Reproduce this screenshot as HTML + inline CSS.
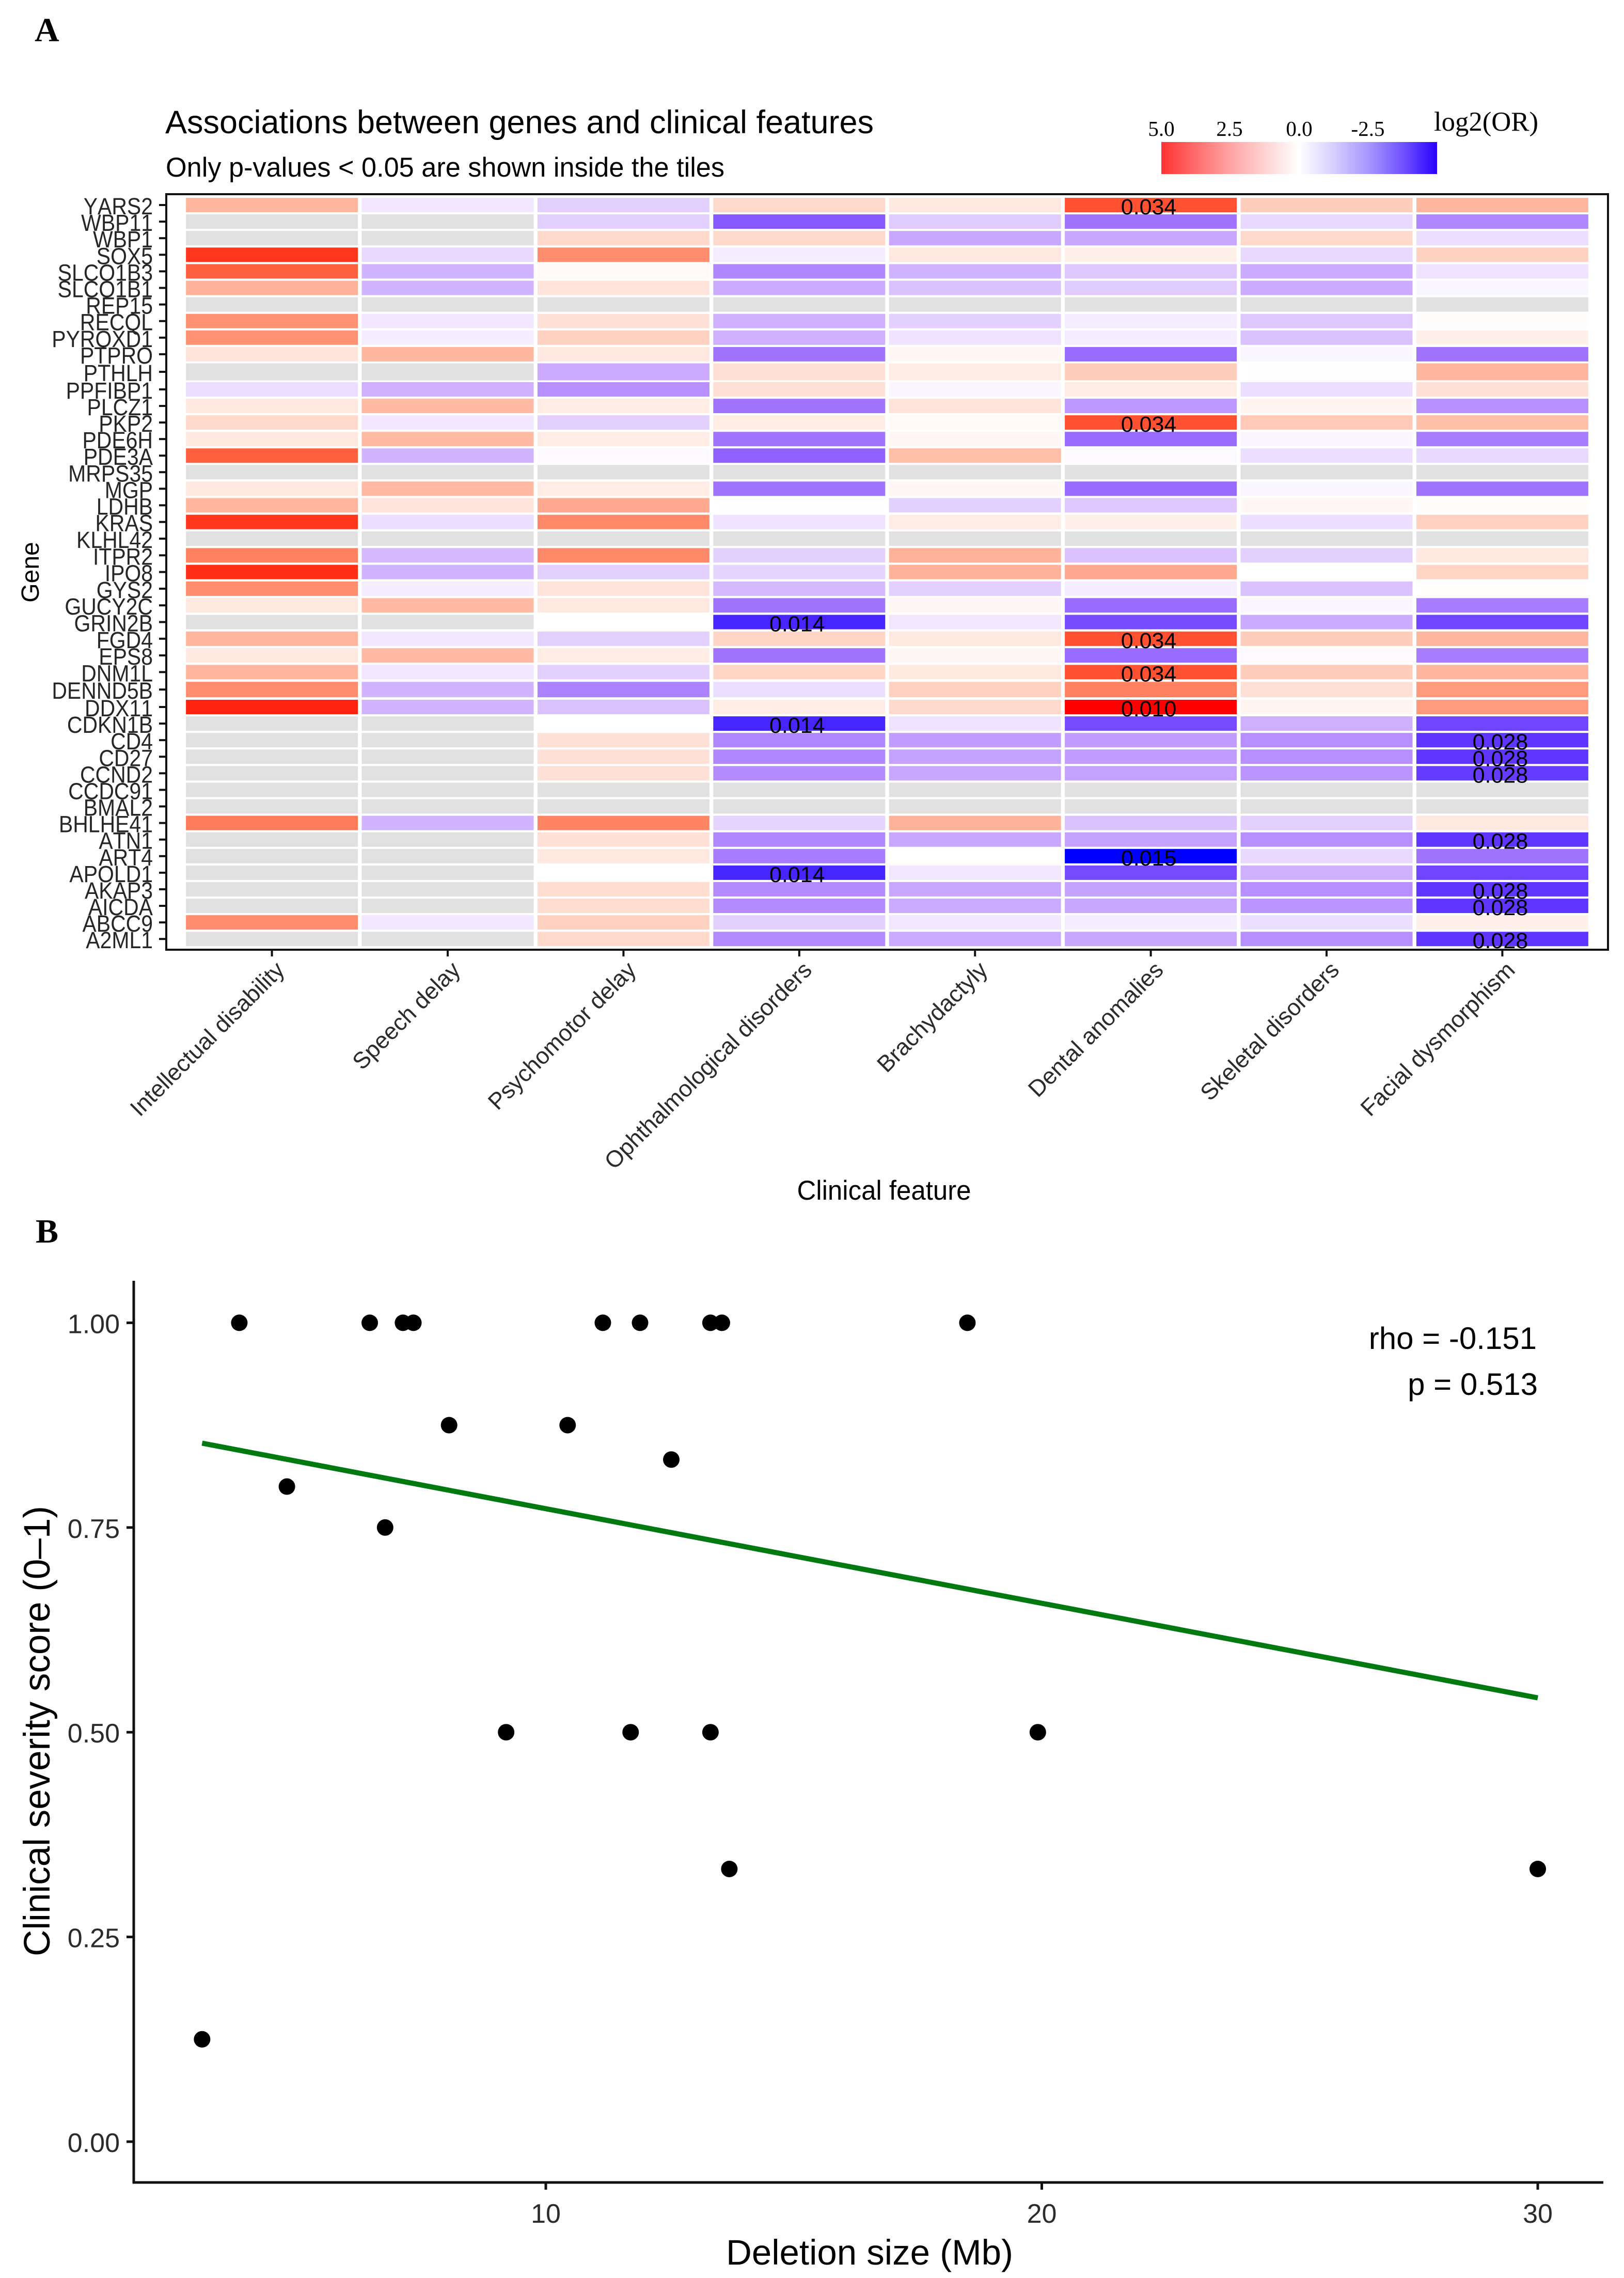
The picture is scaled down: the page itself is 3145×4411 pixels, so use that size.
<!DOCTYPE html>
<html lang="en">
<head>
<meta charset="utf-8">
<title>Gene associations and clinical severity</title>
<style>
html,body{margin:0;padding:0;background:#fff;}
svg{display:block;}
text{font-family:"Liberation Sans",Arial,sans-serif;}
.serif{font-family:"Liberation Serif","Times New Roman",serif;}
</style>
</head>
<body>
<svg id="figure" xmlns="http://www.w3.org/2000/svg" width="3145" height="4411" viewBox="0 0 3145 4411">
  <defs>
    <linearGradient id="legendGradient" x1="0" x2="1" y1="0" y2="0">
      <stop offset="0" stop-color="#ff3232"/>
      <stop offset="0.12" stop-color="#ff6a6a"/>
      <stop offset="0.25" stop-color="#ffa4a4"/>
      <stop offset="0.38" stop-color="#ffd4d4"/>
      <stop offset="0.5" stop-color="#ffffff"/>
      <stop offset="0.62" stop-color="#d8d0ff"/>
      <stop offset="0.75" stop-color="#a896ff"/>
      <stop offset="0.88" stop-color="#6e50ff"/>
      <stop offset="1" stop-color="#2a00ff"/>
    </linearGradient>
  </defs>
  <rect x="0" y="0" width="3145" height="4411" fill="#ffffff"/>

  <text class="serif" x="67" y="80" font-size="66" font-weight="700">A</text>
  <text class="serif" x="69" y="2406" font-size="66" font-weight="700">B</text>

  <text x="320" y="258" font-size="63" textLength="1372" lengthAdjust="spacingAndGlyphs">Associations between genes and clinical features</text>
  <text x="321" y="342" font-size="53" textLength="1082" lengthAdjust="spacingAndGlyphs">Only p-values &lt; 0.05 are shown inside the tiles</text>

  <g id="legend">
    <rect x="2249" y="275" width="534" height="62" fill="url(#legendGradient)"/>
    <text class="serif" x="2249" y="263" font-size="41" text-anchor="middle">5.0</text>
    <text class="serif" x="2381" y="263" font-size="41" text-anchor="middle">2.5</text>
    <text class="serif" x="2516" y="263" font-size="41" text-anchor="middle">0.0</text>
    <text class="serif" x="2649" y="263" font-size="41" text-anchor="middle">-2.5</text>
    <text class="serif" x="2777" y="253" font-size="53" textLength="202" lengthAdjust="spacingAndGlyphs">log2(OR)</text>
  </g>

  <g id="heatmap"></g>
  <text transform="translate(75,1108) rotate(-90)" font-size="48" text-anchor="middle">Gene</text>
  <text x="1712" y="2323" font-size="53" text-anchor="middle" textLength="337" lengthAdjust="spacingAndGlyphs">Clinical feature</text>

  <g id="scatter"></g>
  <text x="2976" y="2612" font-size="60" text-anchor="end">rho = -0.151</text>
  <text x="2978" y="2701" font-size="60" text-anchor="end">p = 0.513</text>
  <text x="1684" y="4385" font-size="69" text-anchor="middle">Deletion size (Mb)</text>
  <text transform="translate(96,3352) rotate(-90)" font-size="71" text-anchor="middle">Clinical severity score (0–1)</text>
</svg>

<script>
/* Heatmap data: log2(OR) per gene (rows) and clinical feature (columns); null = not available */
var genes = ["YARS2","WBP11","WBP1","SOX5","SLCO1B3","SLCO1B1","REP15","RECQL","PYROXD1","PTPRO","PTHLH","PPFIBP1","PLCZ1","PKP2","PDE6H","PDE3A","MRPS35","MGP","LDHB","KRAS","KLHL42","ITPR2","IPO8","GYS2","GUCY2C","GRIN2B","FGD4","EPS8","DNM1L","DENND5B","DDX11","CDKN1B","CD4","CD27","CCND2","CCDC91","BMAL2","BHLHE41","ATN1","ART4","APOLD1","AKAP3","AICDA","ABCC9","A2ML1"];
var features = ["Intellectual disability","Speech delay","Psychomotor delay","Ophthalmological disorders","Brachydactyly","Dental anomalies","Skeletal disorders","Facial dysmorphism"];
var logOR = [
[1.9,-0.5,-1.0,1.0,0.6,4.2,1.3,1.9],
[null,null,-1.0,-3.6,-1.1,-3.0,-0.8,-2.6],
[null,null,1.0,1.0,-1.9,-1.9,1.0,-0.7],
[4.6,-0.8,2.9,-0.4,0.6,0.4,-0.8,1.2],
[3.9,-1.6,0.15,-2.6,-1.6,-1.2,-1.8,-0.6],
[2.0,-1.6,0.7,-1.8,-1.3,-1.1,-1.8,-0.2],
[null,null,null,null,null,null,null,null],
[2.8,-0.5,0.8,-1.7,-1.0,-0.4,-1.2,0.05],
[2.8,-0.4,1.2,-1.7,-0.6,-0.4,-1.3,0.4],
[0.7,1.9,0.6,-3.0,0.2,-3.2,-0.2,-3.0],
[null,null,-1.8,0.8,0.5,1.3,-0.05,1.9],
[-0.7,-1.7,-2.4,0.8,-0.2,0.5,-0.7,0.8],
[0.6,1.8,0.5,-3.0,0.7,-2.2,0.3,-2.4],
[1.0,-0.5,-1.0,0.5,0.15,4.2,1.4,1.7],
[0.6,1.8,0.5,-3.0,0.2,-3.2,-0.2,-2.8],
[3.9,-1.6,-0.1,-3.4,1.7,-0.1,-0.7,-0.8],
[null,null,null,null,null,null,null,null],
[0.6,1.8,0.5,-3.0,0.2,-3.2,-0.2,-3.0],
[1.9,0.7,2.2,-0.05,-1.0,-1.2,0.2,0.05],
[4.6,-0.7,3.0,-0.6,0.5,0.4,-0.7,1.2],
[null,null,null,null,null,null,null,null],
[3.2,-1.5,3.0,-1.0,2.0,-1.3,-1.0,0.6],
[4.7,-1.6,-1.0,-0.9,2.0,2.2,0,1.1],
[2.9,-0.4,0.7,-1.5,-1.0,-0.4,-1.3,0.03],
[0.6,1.8,0.6,-3.0,0.2,-3.2,-0.2,-2.8],
[null,null,0,-4.6,-0.5,-3.9,-1.8,-4.0],
[1.9,-0.5,-1.0,1.1,0.6,4.2,1.3,1.9],
[0.6,1.8,0.5,-3.0,0.2,-3.2,-0.1,-2.8],
[1.9,-0.5,-1.0,1.1,0.6,4.2,1.3,1.9],
[2.9,-1.6,-2.7,-0.7,1.2,3.2,0.8,2.6],
[4.8,-1.6,-1.3,0.5,1.0,5.0,0.3,2.6],
[null,null,0,-4.6,-0.6,-3.9,-1.7,-4.0],
[null,null,0.8,-2.6,-2.1,-2.1,-2.4,-4.3],
[null,null,0.8,-2.6,-2.0,-2.1,-2.4,-4.3],
[null,null,0.8,-2.5,-1.9,-2.0,-2.3,-4.2],
[null,null,null,null,null,null,null,null],
[null,null,null,null,null,null,null,null],
[3.3,-1.6,3.1,-0.9,2.0,-1.3,-1.0,0.6],
[null,null,0.8,-2.6,-1.9,-2.0,-2.4,-4.3],
[null,null,0.6,-2.8,-0.02,-5.0,-0.8,-3.0],
[null,null,0,-4.6,-0.5,-3.9,-1.7,-4.0],
[null,null,0.9,-2.5,-1.9,-2.0,-2.4,-4.3],
[null,null,0.9,-2.5,-1.8,-1.9,-2.3,-4.3],
[2.9,-0.5,1.2,-1.0,-0.5,-0.4,-0.7,0.4],
[null,null,1.0,-2.5,-1.8,-1.9,-2.4,-4.3]
];
/* Significant p-values printed inside tiles */
var pGenes = ["YARS2","PKP2","GRIN2B","FGD4","DNM1L","DDX11","CDKN1B","APOLD1","ART4","CD4","CD27","CCND2","ATN1","AKAP3","AICDA","A2ML1"];
var pFeatures = ["Dental anomalies","Dental anomalies","Ophthalmological disorders","Dental anomalies","Dental anomalies","Dental anomalies","Ophthalmological disorders","Ophthalmological disorders","Dental anomalies","Facial dysmorphism","Facial dysmorphism","Facial dysmorphism","Facial dysmorphism","Facial dysmorphism","Facial dysmorphism","Facial dysmorphism"];
var pValues = ["0.034","0.034","0.014","0.034","0.034","0.010","0.014","0.014","0.015","0.028","0.028","0.028","0.028","0.028","0.028","0.028"];

/* Scatter data */
var deletionSize = [3.07,3.82,4.78,6.45,6.76,7.12,7.33,8.05,9.2,10.44,11.15,11.71,11.9,12.53,13.32,13.32,13.55,13.7,18.5,19.92,30];
var severityScore = [0.125,1,0.8,1,0.75,1,1,0.875,0.5,0.875,1,0.5,1,0.833,1,0.5,1,0.333,1,0.5,0.333];
var trendSize = [3.07,30];
var trendScore = [0.853,0.542];
var scatterXTicks = [10,20,30];
var scatterYTicks = [0,0.25,0.5,0.75,1];

var SVGNS = "http://www.w3.org/2000/svg";
function make(parent, tag, attrs, txt) {
  var el = document.createElementNS(SVGNS, tag);
  for (var k in attrs) { el.setAttribute(k, attrs[k]); }
  if (txt !== undefined) { el.textContent = txt; }
  parent.appendChild(el);
  return el;
}
function kebab(s) { return String(s).toLowerCase().replace(/[^a-z0-9]+/g, "-"); }

/* Lab interpolation, like ggplot's scale_fill_gradient2 */
function labToRgb(L, a, b) {
  var fy = (L + 16) / 116, fx = fy + a / 500, fz = fy - b / 200;
  function inv(t) { return t > 0.206893 ? t * t * t : (t - 16 / 116) / 7.787; }
  var X = 0.95047 * inv(fx), Y = inv(fy), Z = 1.08883 * inv(fz);
  var r = 3.2406 * X - 1.5372 * Y - 0.4986 * Z;
  var g = -0.9689 * X + 1.8758 * Y + 0.0415 * Z;
  var bl = 0.0557 * X - 0.2040 * Y + 1.0570 * Z;
  function gam(c) {
    c = Math.max(0, Math.min(1, c));
    c = c <= 0.0031308 ? 12.92 * c : 1.055 * Math.pow(c, 1 / 2.4) - 0.055;
    return Math.round(c * 255);
  }
  return "rgb(" + gam(r) + "," + gam(g) + "," + gam(bl) + ")";
}
function fillFor(v) {
  if (v === null) { return "#e1e1e1"; }
  var t = Math.min(1, Math.abs(v) / 5);
  if (v >= 0) { return labToRgb(100 - 46.76 * t, 80.09 * t, 67.2 * t); }
  return labToRgb(100 - 67.7 * t, 79.2 * t, -107.86 * t);
}

/* Heatmap axes. The source figure was resampled unevenly, so the row axis has a small warp. */
var panelLeft = 322, panelRight = 3114, panelTop = 376, panelBottom = 1839;
function colX(i) { return 526.6 + 340.4 * i; }
function rowWarp(i) {
  if (i < 10) { return -0.2 * i; }
  if (i === 10) { return 0; }
  if (i <= 18) { return 1.7 * (18 - i) / 7; }
  if (i < 29) { return 0; }
  if (i === 29) { return 1.5; }
  return 3 * (44 - i) / 14;
}
function rowY(i) { return 397 + 32.3 * i + rowWarp(i); }
function rowH(i) { return i === 10 ? 33 : (i === 29 ? 30 : 28); }

var hm = document.getElementById("heatmap");
genes.forEach(function (gene, r) {
  features.forEach(function (feature, c) {
    var tile = make(hm, "rect", { x: colX(c) - 166.5, y: rowY(r) - rowH(r) / 2, width: 333, height: rowH(r), fill: fillFor(logOR[r][c]) });
    
    
  });
  var tick = make(hm, "line", { x1: panelLeft - 14, x2: panelLeft, y1: rowY(r), y2: rowY(r), stroke: "#111", "stroke-width": 4 });
  
  
  var label = make(hm, "text", { transform: "translate(296," + (rowY(r) + 18) + ") scale(0.91,1)", "font-size": 45, "text-anchor": "end", fill: "#262626", style: "font-kerning:none" }, gene);
  
  
});

features.forEach(function (feature, c) {
  var tick = make(hm, "line", { x1: colX(c), x2: colX(c), y1: panelBottom, y2: panelBottom + 13, stroke: "#111", "stroke-width": 4 });
  
  
  var label = make(hm, "text", { transform: "translate(" + (colX(c) + 27) + ",1881) rotate(-45)", "font-size": 45, "text-anchor": "end", fill: "#2b2b2b" }, feature);
  
  
});

pValues.forEach(function (p, i) {
  var r = genes.indexOf(pGenes[i]);
  var c = features.indexOf(pFeatures[i]);
  var t = make(hm, "text", { x: colX(c) - 4, y: rowY(r) + 18, "font-size": 43, "text-anchor": "middle", fill: "#000" }, p);
  
  
});

var frame = make(hm, "rect", { x: panelLeft, y: panelTop, width: panelRight - panelLeft, height: panelBottom - panelTop, fill: "none", stroke: "#111", "stroke-width": 4 });



/* Scatter axes */
function sx(v) { return 1057 + 96.05 * (v - 10); }
function sy(v) { return 4147 - 1585.6 * v; }

var sc = document.getElementById("scatter");
var yAxis = make(sc, "line", { x1: 259, x2: 259, y1: 2480, y2: 4228, stroke: "#111", "stroke-width": 5 });


var xAxis = make(sc, "line", { x1: 257, x2: 3105, y1: 4226, y2: 4226, stroke: "#111", "stroke-width": 5 });



scatterYTicks.forEach(function (v) {
  var tick = make(sc, "line", { x1: 245, x2: 259, y1: sy(v), y2: sy(v), stroke: "#111", "stroke-width": 5 });
  
  
  var label = make(sc, "text", { x: 232, y: sy(v) + 20, "font-size": 52, "text-anchor": "end", fill: "#2b2b2b" }, v.toFixed(2));
  
  
});
scatterXTicks.forEach(function (v) {
  var tick = make(sc, "line", { x1: sx(v), x2: sx(v), y1: 4226, y2: 4240, stroke: "#111", "stroke-width": 5 });
  
  
  var label = make(sc, "text", { x: sx(v), y: 4304, "font-size": 52, "text-anchor": "middle", fill: "#2b2b2b" }, String(v));
  
  
});

var trend = make(sc, "line", { x1: sx(trendSize[0]), y1: sy(trendScore[0]), x2: sx(trendSize[1]), y2: sy(trendScore[1]), stroke: "#007a10", "stroke-width": 10 });



deletionSize.forEach(function (d, i) {
  var pt = make(sc, "circle", { cx: sx(d), cy: sy(severityScore[i]), r: 16, fill: "#000" });
  
  
});
</script>
</body>
</html>
